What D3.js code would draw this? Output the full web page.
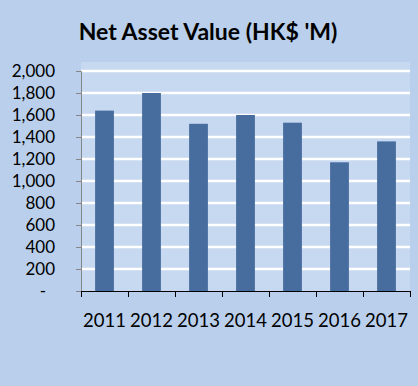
<html>
<head>
<script src="https://d3js.org/d3.v7.min.js"></script>
</head>
<body style="margin:0">
<svg id="nav_chart" width="418" height="386"></svg>
<style>
  text { font-family: Lato, "Liberation Sans", Arial; }
</style>
<script>
  // values (HK$ millions)
  const years = ['2011', '2012', '2013', '2014', '2015', '2016', '2017'];
  const navValues = [1640, 1800, 1520, 1600, 1530, 1170, 1360];
  const yTicks = [0, 200, 400, 600, 800, 1000, 1200, 1400, 1600, 1800, 2000];

  let svg = d3.select('svg#nav_chart');
  let width = +svg.attr('width');
  let height = +svg.attr('height');

  const plot = {left: 81, right: 410, top: 62, bottom: 291};

  // background
  svg.append('rect')
     .attr('width', width).attr('height', height)
     .attr('fill', '#b9cfeb');

  svg.append('rect')
     .attr('x', plot.left).attr('y', plot.top)
     .attr('width', plot.right - plot.left).attr('height', plot.bottom - plot.top)
     .attr('fill', '#c6d9f0');

  svg.append('text')
     .text("Net Asset Value (HK$ 'M)")
     .attr('x', 208).attr('y', 40)
     .attr('text-anchor', 'middle')
     .attr('font-size', '23px')
     .attr('font-weight', 'bold')
     .attr('fill', '#000');

  let x = d3.scaleBand()
            .domain(years)
            .range([plot.left, plot.right])
            .paddingInner(0.6)
            .paddingOuter(0.3);

  let y = d3.scaleLinear()
            .domain([0, 2000])
            .range([plot.bottom, 71]);

  // gridlines
  svg.selectAll('line.grid')
     .data(yTicks.filter(d => d > 0))
     .join('line')
     .attr('class', 'grid')
     .attr('x1', plot.left).attr('x2', plot.right)
     .attr('y1', d => y(d)).attr('y2', d => y(d))
     .attr('stroke', 'white')
     .attr('stroke-width', 2.5);

  svg.selectAll('rect.bar')
     .data(navValues)
     .join('rect')
     .attr('class', 'bar')
     .attr('x', (d, i) => x(years[i]))
     .attr('y', d => y(d))
     .attr('width', x.bandwidth())
     .attr('height', d => y(0) - y(d))
     .attr('fill', '#476c9e');

  // y axis
  let yaxis = svg.append('g')
     .attr('transform', `translate(${plot.left},0)`)
     .call(d3.axisLeft(y)
             .tickValues(yTicks)
             .tickSize(5)
             .tickPadding(21)
             .tickFormat(d => d === 0 ? '-' : d3.format(',')(d)));
  yaxis.selectAll('line').attr('stroke', '#868686');
  yaxis.select('path.domain').attr('stroke', '#868686');
  yaxis.selectAll('text')
       .attr('font-size', '17px')
       .attr('fill', '#000')
       .attr('dx', d => d === 0 ? -9 : 0);

  // x axis: ticks at category boundaries
  let xEdges = d3.scaleLinear().domain([0, years.length]).range([plot.left, plot.right]);
  let xaxis = svg.append('g')
     .attr('transform', `translate(0,${plot.bottom})`)
     .call(d3.axisBottom(xEdges)
             .ticks(years.length)
             .tickSizeInner(6)
             .tickSizeOuter(0)
             .tickFormat(''));
  xaxis.selectAll('line').attr('stroke', '#000');
  xaxis.select('path.domain').attr('stroke', '#000');

  let xlabels = svg.append('g')
     .attr('transform', `translate(0,${plot.bottom})`)
     .call(d3.axisBottom(x).tickSize(0).tickPadding(23));
  xlabels.select('path.domain').remove();
  xlabels.selectAll('text')
         .attr('font-size', '18.5px')
         .attr('fill', '#000');
</script>
</body>
</html>
